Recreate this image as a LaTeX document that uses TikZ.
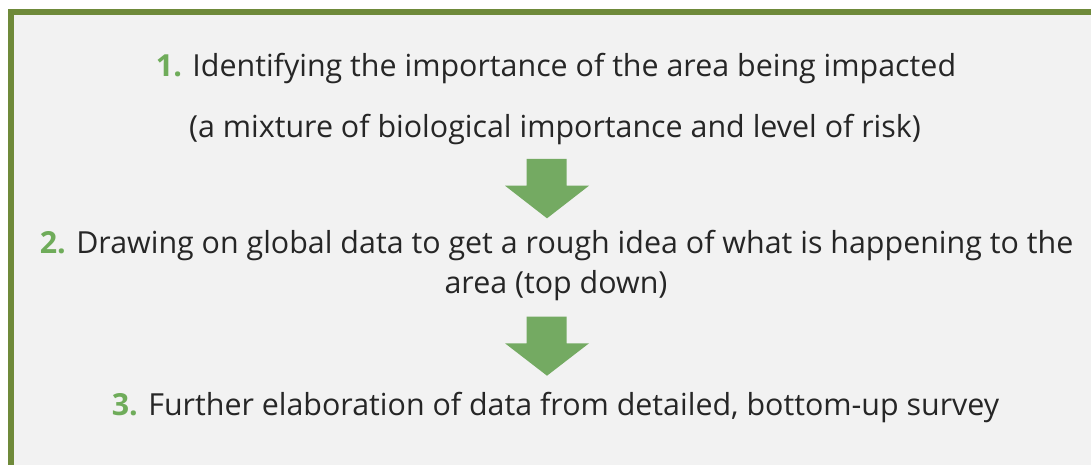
\documentclass[tikz,border=0pt]{standalone}
\usepackage{fontspec}
\setmainfont{Open Sans}
\definecolor{bordergreen}{HTML}{6F8A3A}
\definecolor{numgreen}{HTML}{6FAC5A}
\definecolor{arrowgreen}{HTML}{74AA62}
\definecolor{panelgray}{HTML}{F2F2F2}
\definecolor{textdark}{HTML}{262626}
\begin{document}
\begin{tikzpicture}[x=1pt,y=-1pt,
  line/.style={anchor=base, inner sep=0pt, text=textdark, font=\fontsize{30.4}{34}\selectfont},
  downarrow/.style={fill=arrowgreen, draw=none}]
\useasboundingbox (0,0) rectangle (1091,465);
\fill[white] (0,0) rectangle (1091,465);
\fill[panelgray] (8,9) rectangle (1091,465);
\fill[bordergreen] (8,9) rectangle (1091,15);
\fill[bordergreen] (8,9) rectangle (13.5,465);
\node[line] (l1) at (556,77) {{\color{numgreen}\bfseries 1.} Identifying the importance of the area being impacted};
\node[line] (l2) at (555,138) {(a mixture of biological importance and level of risk)};
\node[line] (l3) at (556.5,253) {{\color{numgreen}\bfseries 2.} Drawing on global data to get a rough idea of what is happening to the};
\node[line] (l4) at (556,293) {area (top down)};
\node[line] (l5) at (555.5,415) {{\color{numgreen}\bfseries 3.} Further elaboration of data from detailed, bottom-up survey};
\fill[downarrow] (526.7,159) -- (566.7,159) -- (566.7,185.7) -- (589,185.7) -- (547,218.3) -- (505,185.7) -- (526.7,185.7) -- cycle;
\fill[downarrow] (526.7,316.7) -- (566.7,316.7) -- (566.7,343.3) -- (589,343.3) -- (547,375.7) -- (505,343.3) -- (526.7,343.3) -- cycle;
\end{tikzpicture}
\end{document}
